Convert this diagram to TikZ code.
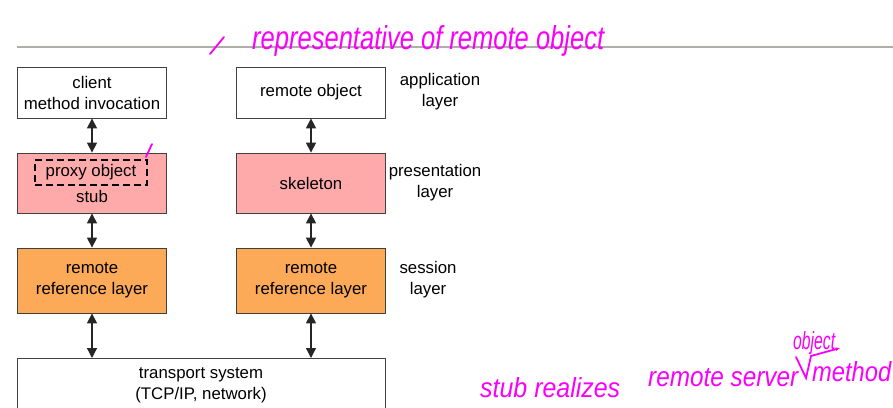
\documentclass[tikz,border=0pt]{standalone}
\usepackage{fontspec}
\usepackage{graphicx}
\setmainfont{Liberation Sans}
\usetikzlibrary{arrows.meta, positioning}
\definecolor{stubpink}{RGB}{255,170,170}
\definecolor{reforange}{RGB}{253,170,88}
\definecolor{inkpink}{RGB}{250,0,250}
\definecolor{rulegrey}{RGB}{175,175,170}

\begin{document}
\begin{tikzpicture}[x=1pt, y=-1pt,
  layerbox/.style={draw=black!75, line width=0.8pt, minimum width=149pt,
    align=center, inner sep=0pt, font=\fontsize{16.8}{21}\selectfont},
  sidelabel/.style={align=center, font=\fontsize{16.8}{21}\selectfont},
  proxybox/.style={draw, dashed, line width=2.2pt, dash pattern=on 7pt off 4pt,
    minimum width=112pt, minimum height=25pt, inner sep=0pt,
    font=\fontsize{16.8}{20}\selectfont},
  biarrow/.style={{Triangle[length=10pt,width=10pt]}-{Triangle[length=10pt,width=10pt]},
    line width=1.3pt, black!85},
  ink/.style={inkpink, line width=1.8pt, line cap=round},
  inktext/.style={inkpink, font=\itshape, inner sep=0pt}]
\clip (0,0) rectangle (893,407);

% rule under the title
\draw[rulegrey, line width=2pt] (17,47) -- (893,47);

% client side
\node[layerbox, minimum height=51pt] (client) at (92,92.5) {client\\method invocation};
\node[layerbox, fill=stubpink, minimum height=60pt] (stub) at (92,183) {};
\node[proxybox] (proxy) at (91,172.5) {proxy object};
\node[font=\fontsize{16.8}{20}\selectfont] (stubtext) at (92,196.5) {stub};
\node[layerbox, fill=reforange, minimum height=65pt] (clientref) at (92,280.5) {remote\\reference layer};

% server side
\node[layerbox, minimum height=51pt] (remobj) at (311,92.5) {remote object};
\node[layerbox, fill=stubpink, minimum height=60pt] (skeleton) at (311,183) {skeleton};
\node[layerbox, fill=reforange, minimum height=65pt] (serverref) at (311,280.5) {remote\\reference layer};

% transport
\node[layerbox, minimum width=368pt, minimum height=53pt, anchor=north] (transport) at (201,358)
  {transport system\\(TCP/IP, network)};

% layer names
\node[sidelabel] (applayer) at (440,92) {application\\layer};
\node[sidelabel] (preslayer) at (435,183) {presentation\\layer};
\node[sidelabel] (sesslayer) at (428,280) {session\\layer};

% arrows between the layers
\draw[biarrow] (client) -- (stub);
\draw[biarrow] (stub) -- (clientref);
\draw[biarrow] (clientref) -- (clientref |- transport.north);
\draw[biarrow] (remobj) -- (skeleton);
\draw[biarrow] (skeleton) -- (serverref);
\draw[biarrow] (serverref) -- (serverref |- transport.north);

% handwritten notes
\draw[ink] (210,54) -- (224,37);
\node[inktext, anchor=west] (note1) at (252,41) {\resizebox{352pt}{24pt}{representative of remote object}};
\draw[ink] (146,157) -- (152,144);
\node[inktext, anchor=west] (note2) at (480,388) {\resizebox{140pt}{20pt}{stub realizes}};
\node[inktext, anchor=west] (note3) at (648,378) {\resizebox{150pt}{18pt}{remote server}};
\node[inktext, anchor=west] (note4) at (812,372) {\resizebox{79pt}{20pt}{method}};
\node[inktext, anchor=west] (note5) at (793,343) {\resizebox{42pt}{18pt}{object}};
\draw[ink, -{Stealth[length=5pt]}] (796,357) -- (806,378) -- (811,356) -- (840,348);
\end{tikzpicture}
\end{document}
